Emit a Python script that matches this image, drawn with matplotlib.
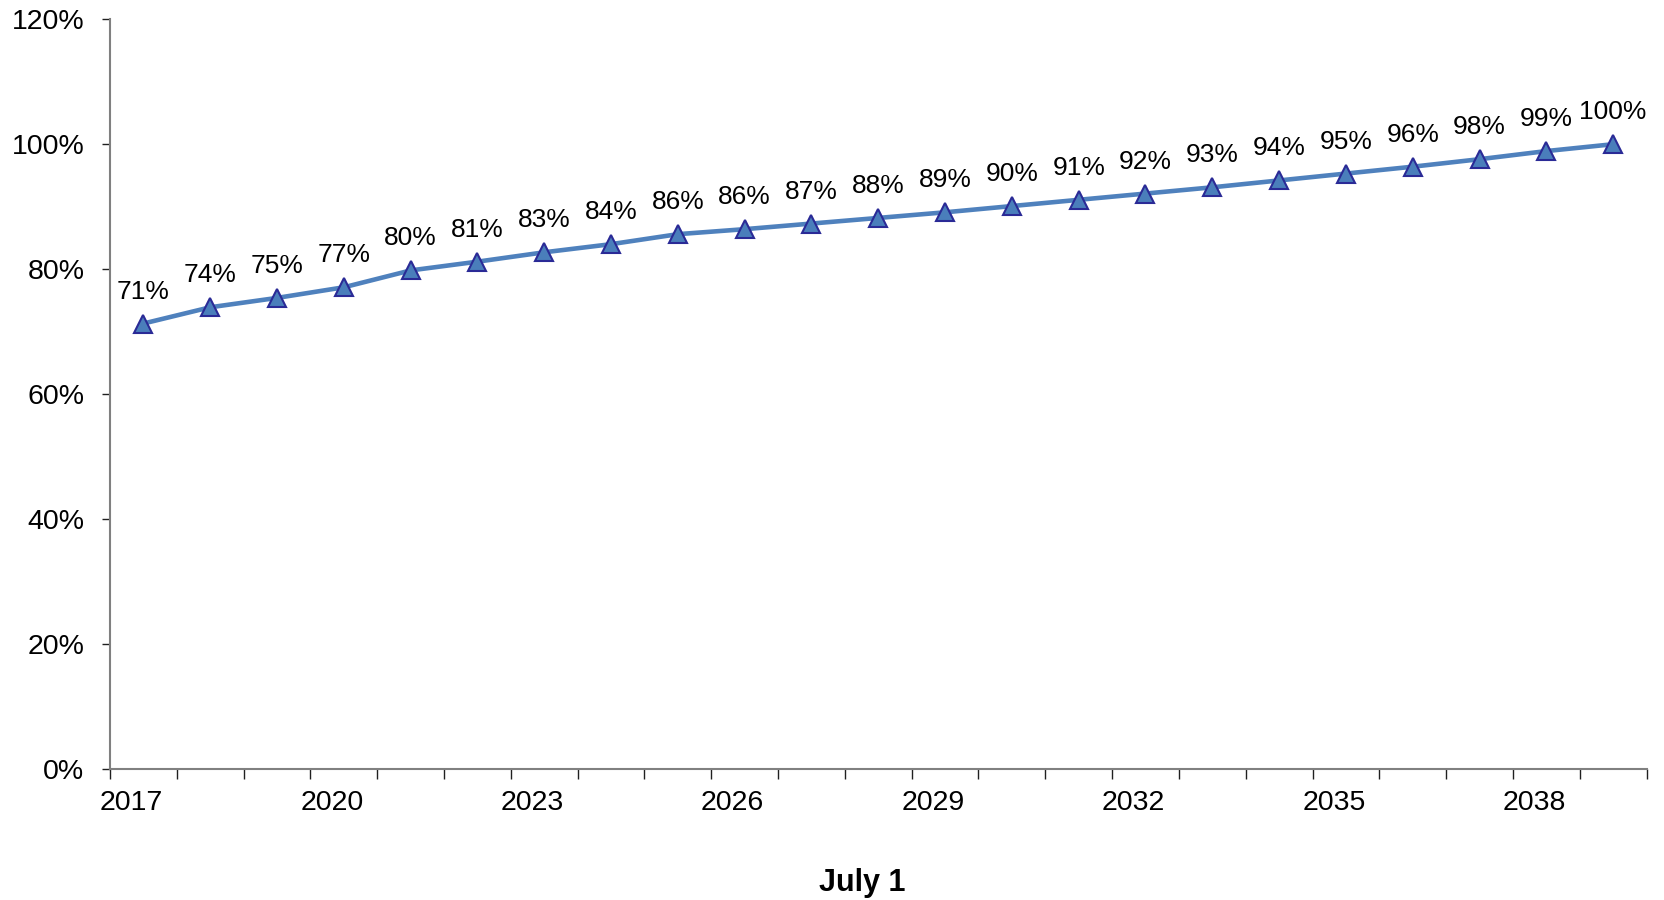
import matplotlib.pyplot as plt
from matplotlib.ticker import FixedLocator, FuncFormatter

plt.rcParams['font.family'] = ['Liberation Sans', 'DejaVu Sans']

# Data
years = list(range(2017, 2040))
share = [0.713, 0.739, 0.754, 0.771, 0.798, 0.812, 0.827, 0.840, 0.856, 0.864,
         0.873, 0.882, 0.891, 0.901, 0.911, 0.921, 0.931, 0.942, 0.953, 0.964,
         0.976, 0.989, 1.000]
labelled_years = list(range(2017, 2040, 3))
y_ticks = [0, 0.2, 0.4, 0.6, 0.8, 1.0, 1.2]

fig = plt.figure(figsize=(16.65, 9), dpi=100)
ax = fig.add_axes([0.0661, 0.1456, 0.9228, 0.833])

x = list(range(len(years)))
ax.plot(x, share, color='#4F81BD', linewidth=3.3, marker='^', markersize=13,
        markerfacecolor='#4A7EBB', markeredgecolor='#2A2A96', markeredgewidth=1.5,
        zorder=3)

# Data labels above each point
for xi, v in zip(x, share):
    ax.annotate('{:.0f}%'.format(v * 100), (xi, v), xytext=(0, 18),
                textcoords='offset points', ha='center', va='baseline',
                fontsize=19)

ax.set_xlim(-0.5, len(years) - 0.5)
ax.set_ylim(0, 1.2)

# Y axis
ax.yaxis.set_major_locator(FixedLocator(y_ticks))
ax.yaxis.set_major_formatter(FuncFormatter(lambda v, p: '{:.0f}%'.format(v * 100)))
ax.tick_params(axis='y', direction='out', length=6, width=1, color='#202020',
               pad=12.5, labelsize=20.5)

# X axis: ticks between categories, labels every third year
label_pos = [years.index(y) - 0.18 for y in labelled_years]
ax.xaxis.set_major_locator(FixedLocator(label_pos))
ax.set_xticklabels([str(y) for y in labelled_years])
ax.xaxis.set_minor_locator(FixedLocator([i - 0.5 for i in range(len(years) + 1)]))
ax.tick_params(axis='x', which='major', length=0, pad=15, labelsize=20.5)
ax.tick_params(axis='x', which='minor', direction='out', length=7, width=1,
               color='#202020')

for side in ['top', 'right']:
    ax.spines[side].set_visible(False)
for side in ['left', 'bottom']:
    ax.spines[side].set_color('#808080')
    ax.spines[side].set_linewidth(1.5)

fig.text(0.518, 0.01, 'July 1', ha='center', va='baseline', fontsize=22,
         fontweight='bold')

fig.savefig('out.png', dpi=100)
